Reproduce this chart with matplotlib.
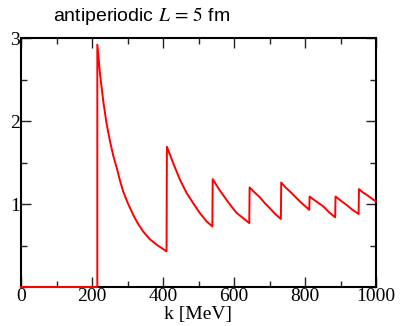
"""Antiperiodic box, L = 5 fm: ratio vs k with jumps at the free-particle thresholds."""

import matplotlib

matplotlib.use("Agg")
import matplotlib.pyplot as plt
from matplotlib.ticker import MultipleLocator

plt.rcParams["mathtext.fontset"] = "stix"

# values, one list per segment between thresholds
below_k = [0, 215]
below_v = [0.0, 0.0]

seg_k = [
    [215, 223, 232, 241, 251, 260, 270, 279, 288, 300, 316, 330, 344, 362, 382, 396, 410],
    [411, 429, 448, 467, 485, 504, 523, 539],
    [540, 559, 579, 593, 608, 626, 643],
    [644, 658, 673, 687, 701, 716, 732],
    [733, 745, 758, 772, 786, 799, 812],
    [813, 832, 852, 868, 885],
    [886, 901, 917, 934, 951],
    [952, 963, 974, 987, 1000],
]
seg_v = [
    [2.92, 2.55, 2.23, 1.97, 1.75, 1.58, 1.43, 1.28, 1.15, 1.02, 0.87, 0.76, 0.67, 0.58, 0.51, 0.47, 0.43],
    [1.69, 1.49, 1.29, 1.13, 1.01, 0.89, 0.79, 0.73],
    [1.30, 1.17, 1.05, 0.97, 0.89, 0.83, 0.77],
    [1.20, 1.14, 1.08, 1.01, 0.95, 0.88, 0.82],
    [1.26, 1.20, 1.15, 1.09, 1.03, 0.98, 0.93],
    [1.09, 1.03, 0.97, 0.90, 0.84],
    [1.09, 1.04, 0.99, 0.93, 0.88],
    [1.18, 1.14, 1.11, 1.07, 1.03],
]

ks = list(below_k)
vs = list(below_v)
for k_part, v_part in zip(seg_k, seg_v):
    ks += k_part
    vs += v_part

fig = plt.figure(figsize=(4.0, 3.26), dpi=100)
ax = fig.add_axes([0.0525, 0.1196, 0.8875, 0.7636])
ax.plot(ks, vs, color="#ff0000", linewidth=1.4, clip_on=False, zorder=3)

ax.set_xlim(0, 1000)
ax.set_ylim(0, 3)
ax.set_xticks([0, 200, 400, 600, 800, 1000])
ax.set_yticks([1, 2, 3])
ax.xaxis.set_minor_locator(MultipleLocator(100))
ax.yaxis.set_minor_locator(MultipleLocator(0.5))
ax.tick_params(which="both", direction="in", top=True, right=True,
               width=1.0, color="#222222")
ax.tick_params(which="major", length=7, pad=1)
ax.tick_params(which="minor", length=4)
for lab in ax.get_xticklabels() + ax.get_yticklabels():
    lab.set_family("Liberation Serif")
    lab.set_fontsize(14)
for sp in ax.spines.values():
    sp.set_linewidth(1.5)

ax.set_xlabel("k [MeV]", family="Liberation Serif", fontsize=14, va="center")
ax.xaxis.set_label_coords(0.5, -0.112)
fig.text(0.1325, 0.935, r"antiperiodic $L\,=\,5$ fm", family="Liberation Sans",
         fontsize=14, ha="left", va="baseline")

fig.savefig("out.png", dpi=100)
